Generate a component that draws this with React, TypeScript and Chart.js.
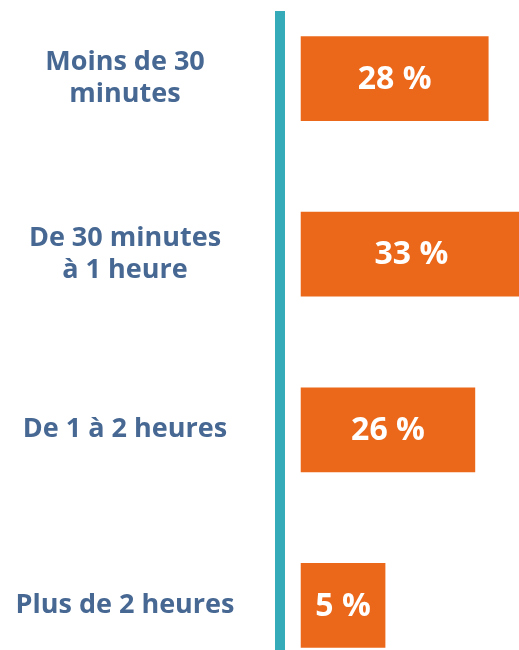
import { useEffect, useRef } from 'react';
import { Chart, registerables } from 'chart.js';

Chart.register(...registerables);

const categories: string[][] = [
  ['Moins de 30', 'minutes'],
  ['De 30 minutes', 'à 1 heure'],
  ['De 1 à 2 heures'],
  ['Plus de 2 heures'],
];
const values: number[] = [28, 33, 26, 5];
const valueLabels: string[] = ['28 %', '33 %', '26 %', '5 %'];

const FONT_FAMILY = "'Open Sans', sans-serif";
const LABEL_SIZE = 27;
const LABEL_COLOR = '#476893';
const BAR_COLOR = '#eb681a';
const AXIS_COLOR = '#35abba';
const AXIS_WIDTH = 280;
const LABEL_CENTER = 125;

const valueLabelPlugin = {
  id: 'valueLabels',
  afterDatasetsDraw(chart: any) {
    const ctx = chart.ctx;
    const meta = chart.getDatasetMeta(0);
    ctx.save();
    ctx.fillStyle = '#ffffff';
    ctx.font = `bold 32px ${FONT_FAMILY}`;
    ctx.textAlign = 'center';
    ctx.textBaseline = 'middle';
    meta.data.forEach((bar: any, i: number) => {
      const { x, base, y } = bar.getProps(['x', 'base', 'y'], true);
      ctx.fillText(valueLabels[i], (x + base) / 2, y + 1);
    });
    ctx.restore();
  },
};

export default function App() {
  const canvasRef = useRef<HTMLCanvasElement | null>(null);

  useEffect(() => {
    if (!canvasRef.current) return;
    // measure widest label so that labels are centred at LABEL_CENTER
    const mctx = document.createElement('canvas').getContext('2d')!;
    mctx.font = `bold ${LABEL_SIZE}px ${FONT_FAMILY}`;
    let widest = 0;
    categories.forEach((lines) => lines.forEach((l) => {
      widest = Math.max(widest, mctx.measureText(l).width);
    }));
    const tickPadding = AXIS_WIDTH - LABEL_CENTER - widest / 2;

    const chart = new Chart(canvasRef.current, {
      type: 'bar',
      data: {
        datasets: [
          {
            data: values.map((v, i) => ({ x: v, y: i })) as any,
            backgroundColor: BAR_COLOR,
            borderWidth: 0,
            barThickness: 84,
            minBarLength: 84,
          },
        ],
      },
      plugins: [valueLabelPlugin],
      options: {
        indexAxis: 'y',
        animation: false,
        responsive: true,
        maintainAspectRatio: false,
        layout: { padding: { top: 16, left: 0, right: 0, bottom: 0 } },
        plugins: {
          legend: { display: false },
          tooltip: { enabled: false },
        },
        scales: {
          x: {
            type: 'linear',
            display: false,
            min: -3.15,
            max: 32.6,
          },
          y: {
            type: 'linear',
            reverse: true,
            offset: false,
            min: -0.3565,
            max: 3.254,
            afterBuildTicks: (axis: any) => {
              axis.ticks = categories.map((_, i) => ({ value: i }));
            },
            afterFit: (axis: any) => {
              axis.width = AXIS_WIDTH;
              axis.paddingTop = 0;
              axis.paddingBottom = 0;
            },
            grid: { display: false, drawTicks: false },
            border: { display: true, color: AXIS_COLOR, width: 10 },
            ticks: {
              autoSkip: false,
              crossAlign: 'center',
              padding: tickPadding,
              color: LABEL_COLOR,
              font: { family: FONT_FAMILY, size: LABEL_SIZE, weight: 'bold', lineHeight: 1.18 },
              callback: (v: any) => categories[Number(v)] ?? '',
            },
          },
        },
      } as any,
    });
    return () => chart.destroy();
  }, []);

  return (
    <div style={{ position: 'absolute', left: 0, top: 0, width: 519, height: 650, background: '#ffffff' }}>
      <canvas ref={canvasRef} />
    </div>
  );
}
